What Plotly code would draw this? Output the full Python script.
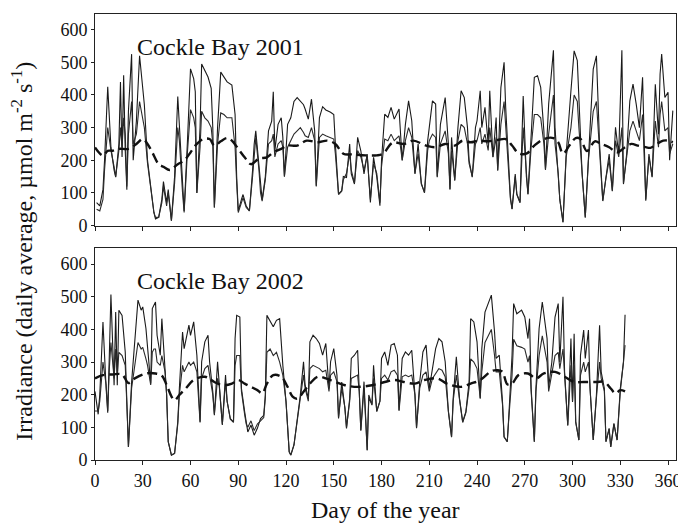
import plotly.graph_objects as go
from plotly.subplots import make_subplots

# ---------------- Cockle Bay 2001 ----------------
days_2001 = [1,3,5,6,8,10,12,13,15,16,17,18,19,20,21,23,24,26,28,30,31,33,35,37,38,40,42,43,45,46,48,50,52,53,55,56,58,60,62,63,64,66,67,69,71,73,74,75,77,79,81,83,86,88,89,90,92,93,95,97,99,100,101,103,104,105,107,109,111,112,113,115,117,118,119,121,123,125,127,129,131,132,134,136,138,139,141,143,145,148,150,151,153,155,156,158,160,161,163,165,167,169,171,173,175,177,179,180,182,184,186,188,191,193,195,197,199,201,203,205,207,209,210,212,214,215,217,220,222,223,224,226,228,230,232,234,235,237,239,240,242,243,245,247,248,250,252,253,255,257,258,260,261,262,264,265,267,269,271,272,274,276,278,280,282,283,285,288,289,291,292,294,296,299,301,303,304,306,308,310,313,315,317,319,321,323,325,327,329,331,332,334,336,338,340,342,344,346,348,350,352,354,355,356,358,360,361,363]
upper_2001 = [70,60,110,200,425,240,170,148,250,440,210,460,230,110,350,525,200,320,520,420,370,200,120,40,20,25,80,135,70,110,15,150,395,300,110,45,250,480,450,410,100,300,495,475,455,420,300,55,300,470,455,440,430,340,150,45,80,95,60,45,170,250,290,180,110,78,150,290,320,410,230,310,330,270,150,310,330,380,392,382,370,357,326,387,290,122,331,364,354,347,340,250,97,107,150,147,250,158,127,270,229,158,219,71,209,150,61,200,341,331,362,326,357,199,310,382,321,158,250,127,102,260,301,382,372,148,310,392,250,112,270,137,300,413,392,300,200,148,300,321,413,300,362,250,413,209,331,168,423,500,362,150,86,51,158,97,71,397,150,97,280,454,459,423,290,173,372,537,300,158,80,10,219,413,535,505,390,160,25,219,479,520,250,76,148,219,107,301,219,537,127,219,382,433,372,300,454,76,219,148,433,280,464,525,392,408,200,352]
lower_2001 = [50,45,80,170,300,230,180,150,230,300,240,330,280,120,280,380,250,280,380,330,300,190,110,40,25,25,70,120,60,100,15,130,300,260,100,40,220,355,330,300,100,240,350,330,320,300,250,55,250,345,340,330,330,240,130,40,70,85,55,45,150,220,270,170,100,75,140,250,260,280,210,250,260,240,150,240,260,280,290,300,285,275,270,300,260,120,270,280,275,270,265,220,95,105,140,160,220,170,130,230,210,170,215,80,190,160,70,180,265,260,280,260,275,200,260,300,270,160,220,130,100,230,260,280,270,150,250,290,220,110,230,140,260,310,300,250,190,150,250,260,300,250,280,230,300,210,270,170,310,380,300,140,80,50,150,95,70,300,140,95,240,340,340,330,250,170,280,400,250,160,80,10,210,300,400,380,300,150,25,200,350,380,220,75,145,200,105,260,210,300,130,210,290,320,290,260,340,80,210,150,320,240,340,380,290,300,220,250]
dash_days_2001 = [0,5,8,11,15,21,26,30,33,36,40,43,47,52,56,60,64,68,72,75,79,83,86,90,94,98,103,108,112,117,121,127,133,140,146,151,156,162,170,177,181,187,194,200,208,214,220,226,231,236,241,247,253,258,262,266,271,276,282,288,291,294,298,302,305,309,314,318,323,328,333,337,341,346,349,353,357,360,363]
dash_2001 = [239,214,229,229,235,235,250,265,250,224,188,180,170,188,199,224,250,265,265,245,258,268,260,235,209,188,205,209,224,235,245,245,260,255,260,250,220,218,215,215,220,254,250,260,245,240,250,245,260,255,260,258,262,265,245,222,220,245,265,268,255,220,245,268,265,228,258,250,240,224,240,250,245,240,238,250,260,260,255]

# ---------------- Cockle Bay 2002 ----------------
days_2002 = [0,2,3,5,7,8,9,10,12,13,14,15,17,19,20,21,23,25,27,29,30,32,33,35,36,37,38,39,41,42,44,45,46,48,50,52,53,55,56,59,60,62,64,66,67,69,71,72,74,75,77,78,80,82,83,85,87,88,89,91,92,94,95,96,98,100,102,104,106,107,108,110,112,114,116,118,120,122,123,125,127,129,131,132,134,135,137,139,141,143,145,147,148,150,152,153,155,157,158,160,161,163,165,166,167,169,171,172,174,175,177,179,180,182,184,186,188,190,191,193,195,197,199,201,202,204,206,208,210,212,214,216,218,220,222,224,225,227,229,231,233,235,236,238,240,242,243,245,247,249,251,252,254,256,257,259,260,262,263,265,268,270,272,273,274,276,277,279,281,282,284,285,287,289,291,292,294,295,297,299,300,301,302,304,305,307,308,310,311,313,315,317,318,320,321,323,324,326,328,330,332,333]
upper_2002 = [210,140,200,423,218,145,321,507,229,453,229,459,443,331,178,40,239,362,490,459,469,403,341,234,464,474,484,382,321,433,260,200,56,15,20,117,219,392,341,413,382,423,321,117,301,362,382,300,209,137,301,240,107,260,180,127,117,372,443,438,219,148,117,86,107,76,97,127,137,199,443,423,408,428,433,290,178,25,15,46,127,199,301,229,188,362,382,372,357,321,357,219,301,341,260,127,239,158,97,188,311,321,336,219,91,240,30,199,168,290,148,180,311,331,290,352,357,321,153,311,331,321,336,199,97,239,331,352,219,280,341,372,362,301,148,71,188,316,188,117,148,239,433,423,362,188,341,453,479,505,392,311,321,178,71,56,137,321,479,448,459,438,372,433,219,56,219,403,484,443,372,224,300,438,479,300,500,270,107,372,178,387,117,61,321,398,311,398,219,61,199,413,270,219,56,97,40,112,61,219,300,445]
lower_2002 = [150,150,180,300,230,150,280,360,250,340,260,330,320,290,170,40,220,290,360,340,345,310,290,230,330,340,340,300,290,320,270,200,56,15,20,110,200,290,270,300,290,300,270,115,250,280,290,260,200,140,250,230,110,240,180,125,115,290,320,320,210,140,110,100,120,90,110,120,130,190,330,340,320,330,300,260,180,25,15,46,125,190,260,220,180,280,290,285,280,270,275,210,260,270,240,130,220,160,100,180,250,255,260,210,90,220,30,190,170,250,150,180,250,260,245,270,275,260,150,255,260,255,260,200,100,220,260,270,210,250,265,280,275,255,150,70,180,260,185,115,145,220,310,300,280,190,270,360,380,400,320,270,270,170,70,56,130,260,370,350,345,340,300,320,210,56,210,320,380,350,300,210,260,320,330,280,340,250,105,290,180,290,115,61,260,300,270,300,210,61,190,300,250,210,56,95,40,110,61,210,300,352]
dash_days_2002 = [0,5,11,17,21,25,32,38,42,45,48,50,53,57,62,69,75,80,86,90,94,98,102,105,108,112,117,121,124,127,131,135,140,145,151,157,165,174,182,188,194,201,207,215,221,230,236,242,249,253,256,259,262,266,272,277,282,289,295,301,307,315,320,324,327,330,333]
dash_2002 = [250,260,262,262,236,250,265,265,258,230,195,183,199,219,245,255,239,229,234,245,234,224,214,204,234,260,255,224,195,188,209,234,255,250,239,229,224,229,239,245,239,234,245,250,234,224,234,245,272,275,270,232,234,260,265,250,265,270,255,239,239,239,239,219,204,214,210]

panel_titles = ["Cockle Bay 2001", "Cockle Bay 2002"]
x_ticks = list(range(0, 361, 30))
y_ticks = list(range(0, 601, 100))

FONT = "Liberation Serif, Times New Roman, serif"

fig = make_subplots(rows=2, cols=1, shared_xaxes=False, vertical_spacing=0.0514)

series = [
    (1, days_2001, upper_2001, lower_2001, dash_days_2001, dash_2001),
    (2, days_2002, upper_2002, lower_2002, dash_days_2002, dash_2002),
]
for row, d, up, lo, dd, dv in series:
    fig.add_trace(go.Scatter(x=d, y=up, mode="lines",
                             line=dict(color="#1a1a1a", width=1.1),
                             showlegend=False), row=row, col=1)
    fig.add_trace(go.Scatter(x=d, y=lo, mode="lines",
                             line=dict(color="#2a2a2a", width=1.1),
                             showlegend=False), row=row, col=1)
    fig.add_trace(go.Scatter(x=dd, y=dv, mode="lines", line_shape="spline",
                             line=dict(color="#111111", width=2.4, dash="10px,5px"),
                             showlegend=False), row=row, col=1)

axis_common = dict(range=[0, 365], tickvals=x_ticks, ticks="outside", ticklen=4,
                   tickcolor="#222", showline=True, linecolor="#222", linewidth=1,
                   mirror=True, showgrid=False, zeroline=False,
                   tickfont=dict(family=FONT, size=18, color="#111"))
fig.update_xaxes(**axis_common)
fig.update_xaxes(showticklabels=False, row=1, col=1)
fig.update_yaxes(range=[0, 648], tickvals=y_ticks, ticks="outside", ticklen=3,
                 tickcolor="#222", showline=True, linecolor="#222", linewidth=1,
                 mirror=True, showgrid=False, zeroline=False,
                 tickfont=dict(family=FONT, size=18, color="#111"))

# the page body has an 8px default margin, so the figure is sized to fit inside it
fig.update_layout(
    width=678, height=519,
    margin=dict(l=87, r=6, t=5, b=67),
    plot_bgcolor="white", paper_bgcolor="white",
    showlegend=False,
)
fig.layout.yaxis.domain = [0.5257, 1.0]
fig.layout.yaxis2.domain = [0.0, 0.4743]

# panel labels
for i, (title, yref) in enumerate(zip(panel_titles, ["y domain", "y2 domain"])):
    fig.add_annotation(text=title, xref="x domain" if i == 0 else "x2 domain",
                       yref=yref, x=0.069, y=0.845, xanchor="left", yanchor="middle",
                       showarrow=False, font=dict(family=FONT, size=24, color="#111"))

fig.add_annotation(text="Irradiance (daily average, \u00b5mol m<sup>-2</sup> s<sup>-1</sup>)",
                   xref="paper", yref="paper", x=-0.125, y=0.468, textangle=-90,
                   xanchor="center", yanchor="middle", showarrow=False,
                   font=dict(family=FONT, size=24, color="#111"))
fig.add_annotation(text="Day of the year", xref="paper", yref="paper",
                   x=0.5, y=-0.112, xanchor="center", yanchor="middle", showarrow=False,
                   font=dict(family=FONT, size=24, color="#111"))

fig.write_html("out.html")
